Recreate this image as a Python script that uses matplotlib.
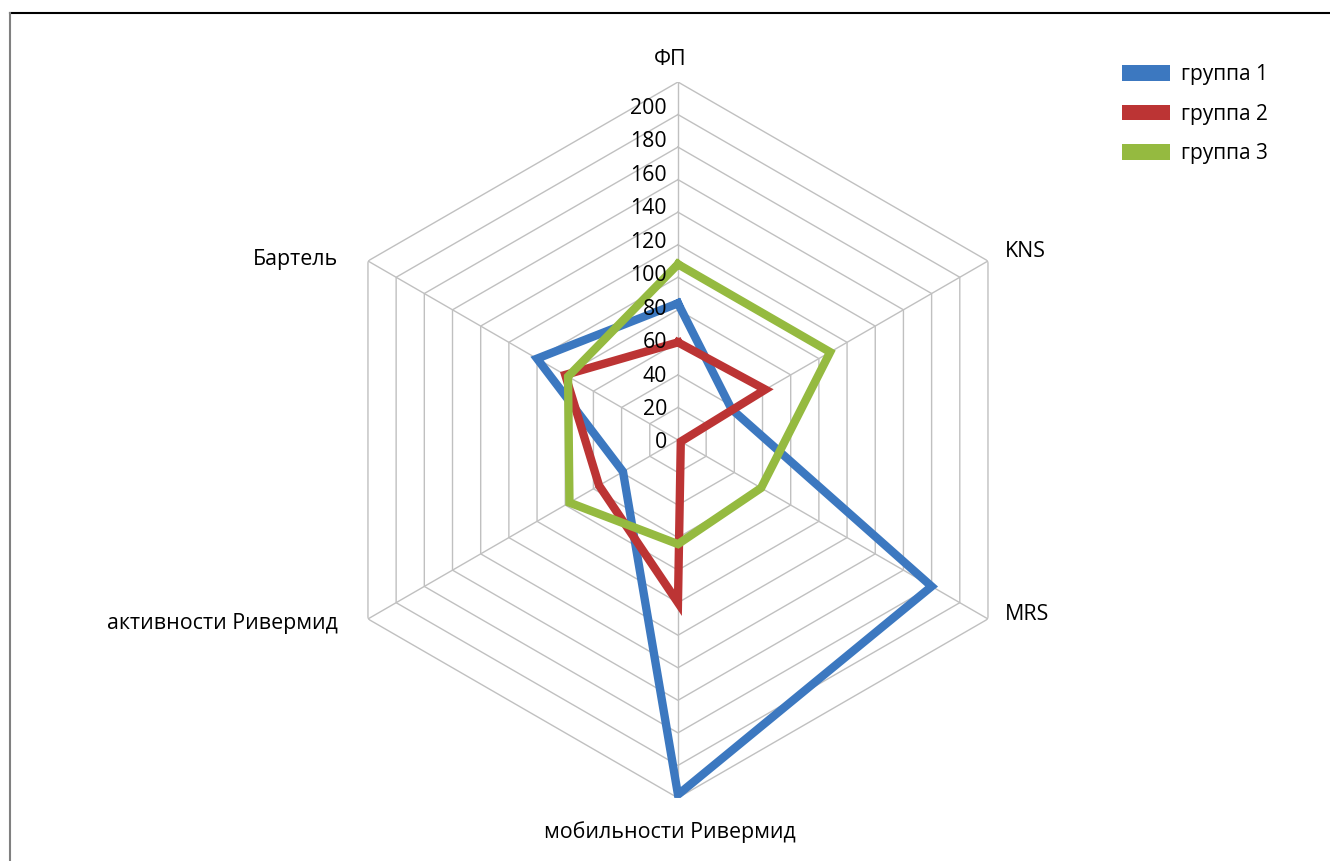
import numpy as np
import matplotlib
matplotlib.use("Agg")
import matplotlib.pyplot as plt
from matplotlib.patches import Patch
from matplotlib.lines import Line2D

plt.rcParams['font.family'] = ['Open Sans', 'DejaVu Sans']

categories = ["ФП", "KNS", "MRS", "мобильности Ривермид", "активности Ривермид", "Бартель"]
group1 = [84, 38, 180, 218, 39, 100]
group2 = [60, 62, 2, 100, 56, 80]
group3 = [108, 108, 59, 64, 77, 78]
series_names = ["группа 1", "группа 2", "группа 3"]
colors = ["#3c78c0", "#bc3434", "#95ba40"]
ticks = list(range(0, 201, 20))
r_max = 220

fig = plt.figure(figsize=(13.3, 8.61), dpi=100)
ax = fig.add_axes([0.2406, 0.0732, 0.5383, 0.8316], projection='polar')
ax.set_theta_offset(np.pi / 2)
ax.set_theta_direction(-1)
ax.set_ylim(0, r_max)
ax.axis('off')

angles = np.linspace(0, 2 * np.pi, len(categories), endpoint=False)
closed = np.append(angles, angles[0])

# шестиугольная сетка и лучи
grid_col = "#c0c0c0"
for r in range(20, r_max + 1, 20):
    ax.plot(closed, [r] * len(closed), color=grid_col, lw=1, zorder=1)
for a in angles:
    ax.plot([a, a], [0, r_max], color=grid_col, lw=1, zorder=1)

for vals, name, c in zip([group1, group2, group3], series_names, colors):
    ax.plot(closed, vals + vals[:1], color=c, lw=6, solid_joinstyle='miter',
            zorder=3, label=name)

for v in ticks:
    ax.annotate(str(v), xy=(0, v), xytext=(-11, -3 + 0.045 * v),
                textcoords='offset pixels', ha='right', va='center',
                fontsize=15.3, zorder=4)

# подписи осей
offsets = [(-8, 23, 'center'), (17, 9, 'left'), (17, 4, 'left'),
           (-8, -34, 'center'), (-30, -5, 'right'), (-30, 1, 'right')]
for a, name, (dx, dy, ha) in zip(angles, categories, offsets):
    ax.annotate(name, xy=(a, r_max), xytext=(dx, dy), textcoords='offset pixels',
                ha=ha, va='center', fontsize=15.4)

handles = [Patch(facecolor=c, edgecolor='none') for c in colors]
fig.legend(handles, series_names, loc='upper left',
           bbox_to_anchor=(1122 / 1330, 1 - 64 / 861), frameon=False,
           fontsize=15, borderpad=0, borderaxespad=0, handlelength=2.3,
           handleheight=0.77, labelspacing=0.9, handletextpad=0.55)

# рамка области диаграммы
fig.add_artist(Line2D([10 / 1330, 1], [1 - 13 / 861] * 2, color='black', lw=1.5))
fig.add_artist(Line2D([10 / 1330] * 2, [0, 1 - 13 / 861], color='#808080', lw=1.5))

plt.savefig("out.png", dpi=100)
